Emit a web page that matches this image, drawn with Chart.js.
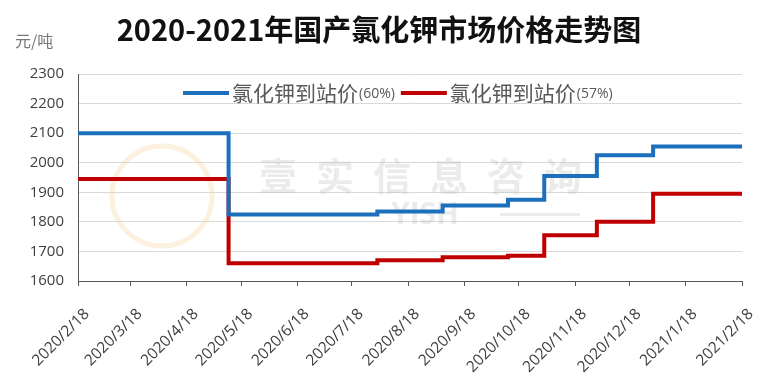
<!DOCTYPE html>
<html>
<head>
<meta charset="utf-8">
<script src="https://cdn.jsdelivr.net/npm/chart.js@4.4.0/dist/chart.umd.min.js"></script>
<style>
  html, body { margin: 0; padding: 0; background: #fff; }
  #wrap { width: 769px; height: 391px; }
</style>
</head>
<body>
<div id="wrap"><canvas id="chart" width="769" height="391"></canvas></div>
<script>
var titleText = '2020-2021年国产氯化钾市场价格走势图';
var unitText = '元/吨';
var seriesNames = ['氯化钾到站价(60%)', '氯化钾到站价(57%)'];
var seriesColors = ['#1c70bb', '#c00000'];

// dates where the price changes, and the price from that date on
var changeDates = ['2020/2/18', '2020/5/11', '2020/8/1', '2020/9/6', '2020/10/12', '2020/11/1', '2020/11/30', '2020/12/31', '2021/2/18'];
var price60 = [2100, 1825, 1835, 1855, 1875, 1955, 2025, 2055, 2055];
var price57 = [1945, 1660, 1670, 1680, 1685, 1755, 1800, 1895, 1895];

var tickLabels = ['2020/2/18', '2020/3/18', '2020/4/18', '2020/5/18', '2020/6/18', '2020/7/18', '2020/8/18',
    '2020/9/18', '2020/10/18', '2020/11/18', '2020/12/18', '2021/1/18', '2021/2/18'];
var yMin = 1600, yMax = 2300, yStep = 100;

function dayOf(s) {
    var p = s.split('/');
    return (Date.UTC(+p[0], p[1] - 1, +p[2]) - Date.UTC(2020, 1, 18)) / 86400000;
}
var tickDays = tickLabels.map(dayOf);

function points(values) {
    return changeDates.map(function (d, i) { return { x: dayOf(d), y: values[i] }; });
}

var decorPlugin = {
    id: 'decor',
    beforeDatasetsDraw: function (chart) {
        var ctx = chart.ctx;
        ctx.save();
        // faint watermark
        ctx.strokeStyle = 'rgba(245, 205, 150, 0.3)';
        ctx.lineWidth = 5;
        ctx.beginPath();
        ctx.arc(162, 196, 50, 0, Math.PI * 2);
        ctx.stroke();
        ctx.fillStyle = 'rgba(190, 190, 190, 0.3)';
        ctx.font = 'bold 38px "Noto Sans CJK SC"';
        ctx.textBaseline = 'middle';
        ctx.textAlign = 'center';
        var wm = '壹实信息咨询';
        for (var i = 0; i < wm.length; i++) {
            ctx.fillText(wm[i], 278 + i * 57, 176);
        }
        ctx.font = 'bold 30px "Open Sans"';
        ctx.fillText('YISH', 425, 215);
        ctx.fillRect(500, 213, 80, 3);
        ctx.restore();
    },
    afterDraw: function (chart) {
        var ctx = chart.ctx;
        ctx.save();
        ctx.textBaseline = 'middle';
        ctx.fillStyle = '#111';
        ctx.textAlign = 'center';
        ctx.font = 'bold 29px "Noto Sans CJK SC"';
        ctx.fillText(titleText, 379, 30);

        ctx.textAlign = 'left';
        ctx.fillStyle = '#777';
        ctx.font = '16px "Noto Sans CJK SC"';
        ctx.fillText(unitText, 15, 41);

        // legend inside plot
        var x = 183, y = 93;
        chart.data.datasets.forEach(function (ds) {
            ctx.strokeStyle = ds.borderColor;
            ctx.lineWidth = 4;
            ctx.beginPath();
            ctx.moveTo(x, y);
            ctx.lineTo(x + 46, y);
            ctx.stroke();
            x += 49;
            var cut = ds.label.indexOf('(');
            var main = ds.label.slice(0, cut), tail = ds.label.slice(cut);
            ctx.fillStyle = '#595959';
            ctx.font = '21px "Noto Sans CJK SC"';
            ctx.fillText(main, x, y);
            x += ctx.measureText(main).width + 1;
            ctx.font = '14px "Open Sans"';
            ctx.fillText(tail, x, y + 1);
            x += ctx.measureText(tail).width + 6;
        });
        ctx.restore();
    }
};

new Chart(document.getElementById('chart'), {
    type: 'line',
    data: {
        datasets: [{
            label: seriesNames[0],
            data: points(price60),
            borderColor: seriesColors[0],
            borderWidth: 4,
            stepped: true,
            pointRadius: 0
        }, {
            label: seriesNames[1],
            data: points(price57),
            borderColor: seriesColors[1],
            borderWidth: 4,
            stepped: true,
            pointRadius: 0
        }]
    },
    options: {
        responsive: false,
        animation: false,
        layout: { padding: { top: 74, right: 27, bottom: 0, left: 0 } },
        scales: {
            x: {
                type: 'linear',
                min: 0,
                max: tickDays[tickDays.length - 1],
                afterBuildTicks: function (scale) {
                    scale.ticks = tickDays.map(function (v) { return { value: v }; });
                },
                afterFit: function (scale) {
                    scale.height = 110;
                    scale.paddingLeft = 0;
                    scale.paddingRight = 0;
                },
                grid: { drawOnChartArea: false, drawTicks: true, tickLength: 5, color: '#595959' },
                border: { color: '#595959', width: 1 },
                ticks: {
                    autoSkip: false,
                    minRotation: 45,
                    maxRotation: 45,
                    padding: 19,
                    labelOffset: 9,
                    color: '#404040',
                    font: { family: 'Open Sans', size: 15.5 },
                    callback: function (v) { return tickLabels[tickDays.indexOf(v)]; }
                }
            },
            y: {
                min: yMin,
                max: yMax,
                afterFit: function (scale) { scale.width = 78; },
                grid: { color: '#d9d9d9', drawTicks: false },
                border: { color: '#595959', width: 1 },
                ticks: {
                    stepSize: yStep,
                    padding: 14,
                    color: '#404040',
                    font: { family: 'Open Sans', size: 15 },
                    callback: function (v) { return String(v); }
                }
            }
        },
        plugins: {
            legend: { display: false },
            tooltip: { enabled: false }
        }
    },
    plugins: [decorPlugin]
});
</script>
</body>
</html>
